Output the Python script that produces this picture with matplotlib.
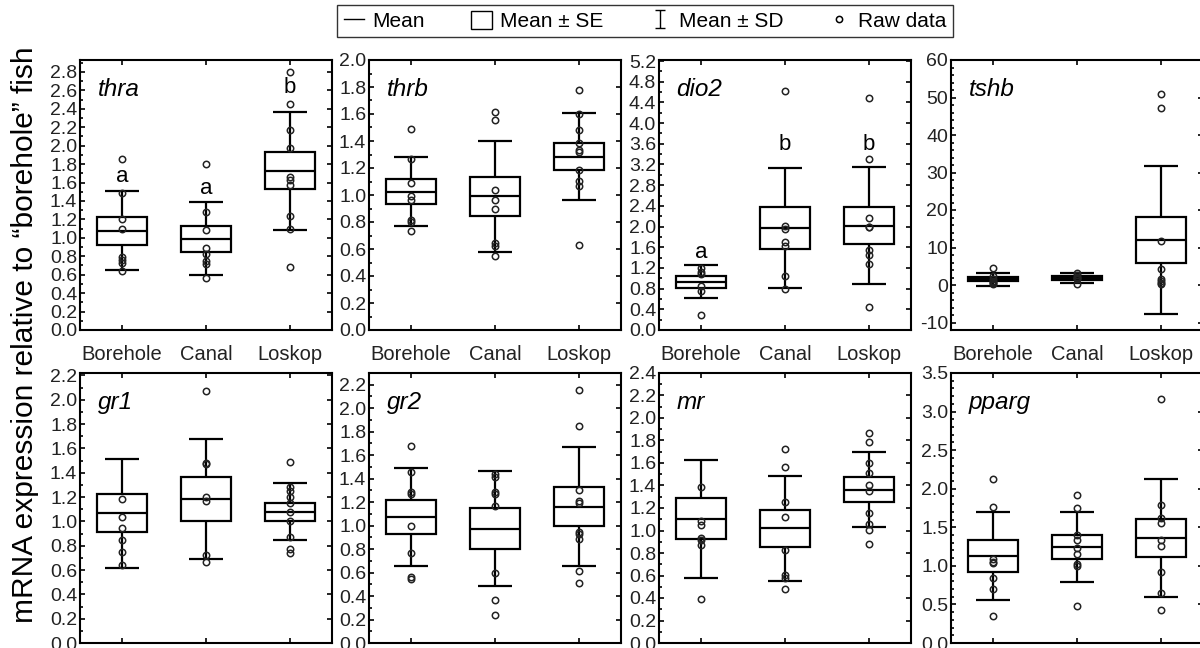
import numpy as np
import matplotlib
matplotlib.use("Agg")
from matplotlib import pyplot as plt
from matplotlib.lines import Line2D
from matplotlib.patches import Patch, Rectangle
from matplotlib.path import Path
from matplotlib.ticker import MultipleLocator, AutoMinorLocator, FormatStrFormatter

plt.rcParams['font.family'] = ['Liberation Sans', 'DejaVu Sans']

sites = ["Borehole", "Canal", "Loskop"]

# thyroid genes
thra_mean = [1.076, 0.99, 1.728]
thra_se = [0.149, 0.142, 0.203]
thra_sd = [0.428, 0.397, 0.64]
thra_raw = [[1.86, 1.49, 1.20, 1.10, 0.79, 0.76, 0.73, 0.64],
            [1.80, 1.28, 1.08, 0.89, 0.83, 0.75, 0.72, 0.56],
            [2.80, 2.45, 2.17, 1.97, 1.66, 1.63, 1.57, 1.24, 1.10, 0.68]]
thra_letters = ["a", "a", "b"]
thra_letter_y = [1.67, 1.54, 2.63]

thrb_mean = [1.025, 0.99, 1.285]
thrb_se = [0.09, 0.143, 0.103]
thrb_sd = [0.257, 0.41, 0.321]
thrb_raw = [[1.49, 1.27, 1.09, 0.995, 0.965, 0.816, 0.797, 0.734],
            [1.615, 1.558, 1.037, 0.963, 0.90, 0.643, 0.625, 0.548],
            [1.777, 1.598, 1.479, 1.387, 1.33, 1.32, 1.186, 1.107, 1.065, 0.63]]

dio2_mean = [0.93, 1.97, 2.02]
dio2_se = [0.12, 0.41, 0.357]
dio2_sd = [0.318, 1.164, 1.131]
dio2_raw = [[1.19, 1.12, 1.08, 0.86, 0.76, 0.29],
            [4.63, 2.02, 1.945, 1.71, 1.63, 1.05, 0.79],
            [4.49, 3.31, 2.165, 2.0, 1.99, 1.54, 1.45, 1.28, 0.45]]
dio2_letters = ["a", "b", "b"]
dio2_letter_y = [1.50, 3.58, 3.59]

tshb_mean = [1.5, 1.85, 12.0]
tshb_se = [0.55, 0.6, 6.23]
tshb_sd = [1.7, 1.25, 19.84]
tshb_raw = [[4.6, 2.5, 1.5, 1.2, 0.9, 0.5, 0.3],
            [3.1, 2.6, 2.2, 2.0, 1.8, 1.5, 0.3],
            [51.0, 47.3, 11.7, 4.2, 1.5, 1.1, 0.6, 0.4]]

# stress / metabolic genes
gr1_mean = [1.068, 1.183, 1.08]
gr1_se = [0.157, 0.178, 0.074]
gr1_sd = [0.448, 0.496, 0.235]
gr1_raw = [[1.18, 1.038, 0.943, 0.847, 0.751, 0.642],
           [2.071, 1.48, 1.472, 1.202, 1.167, 0.724, 0.664],
           [1.489, 1.284, 1.251, 1.20, 1.148, 1.079, 1.003, 0.874, 0.77, 0.743]]

gr2_mean = [1.075, 0.974, 1.162]
gr2_se = [0.145, 0.174, 0.164]
gr2_sd = [0.419, 0.49, 0.51]
gr2_raw = [[1.679, 1.46, 1.289, 1.269, 0.996, 0.768, 0.563, 0.549],
           [1.437, 1.417, 1.289, 1.269, 1.166, 0.597, 0.37, 0.242],
           [2.151, 1.849, 1.303, 1.212, 1.189, 0.947, 0.925, 0.89, 0.615, 0.515]]

mr_mean = [1.103, 1.02, 1.363]
mr_se = [0.182, 0.166, 0.11]
mr_sd = [0.523, 0.468, 0.335]
mr_raw = [[1.387, 1.081, 1.046, 0.933, 0.913, 0.868, 0.391],
          [1.727, 1.561, 1.253, 1.12, 0.824, 0.607, 0.578, 0.483],
          [1.867, 1.784, 1.60, 1.511, 1.401, 1.348, 1.156, 1.061, 1.007, 0.88]]

pparg_mean = [1.126, 1.245, 1.363]
pparg_se = [0.204, 0.158, 0.243]
pparg_sd = [0.572, 0.451, 0.769]
pparg_raw = [[2.122, 1.767, 1.091, 1.05, 1.031, 0.845, 0.702, 0.355],
             [1.914, 1.745, 1.399, 1.33, 1.226, 1.156, 1.026, 0.996, 0.476],
             [3.162, 1.789, 1.624, 1.55, 1.33, 1.256, 0.918, 0.65, 0.424]]

# gene, stats, letters, (ymin, ymax, major step, minor divisions, tick format)
panels = [
    ("thra", thra_mean, thra_se, thra_sd, thra_raw, thra_letters, thra_letter_y, (0, 2.93, 0.2, 2, "%.1f")),
    ("thrb", thrb_mean, thrb_se, thrb_sd, thrb_raw, None, None, (0, 2.0, 0.2, 2, "%.1f")),
    ("dio2", dio2_mean, dio2_se, dio2_sd, dio2_raw, dio2_letters, dio2_letter_y, (0, 5.22, 0.4, 2, "%.1f")),
    ("tshb", tshb_mean, tshb_se, tshb_sd, tshb_raw, None, None, (-12, 60, 10, 5, "%d")),
    ("gr1", gr1_mean, gr1_se, gr1_sd, gr1_raw, None, None, (0, 2.22, 0.2, 2, "%.1f")),
    ("gr2", gr2_mean, gr2_se, gr2_sd, gr2_raw, None, None, (0, 2.3, 0.2, 2, "%.1f")),
    ("mr", mr_mean, mr_se, mr_sd, mr_raw, None, None, (0, 2.4, 0.2, 2, "%.1f")),
    ("pparg", pparg_mean, pparg_se, pparg_sd, pparg_raw, None, None, (0, 3.5, 0.5, 5, "%.1f")),
]

fig = plt.figure(figsize=(12, 6.48), dpi=100)

lefts = [80, 369, 659, 951]
tops = [60, 373]
w_px, h_px = 252, 270
LW = 1.6

x = np.arange(1, len(sites) + 1)

for k, (gene, mean, se, sd, raw, letters, letter_y, yset) in enumerate(panels):
    row, col = divmod(k, 4)
    left = lefts[col] / 1200
    bottom = 1 - (tops[row] + h_px) / 648
    ax = fig.add_axes([left, bottom, w_px / 1200, h_px / 648])

    mean = np.array(mean)
    se = np.array(se)
    sd = np.array(sd)

    for i in range(len(sites)):
        xi = x[i]
        ax.add_patch(Rectangle((xi - 0.3, mean[i] - se[i]), 0.6, 2 * se[i],
                               fill=False, edgecolor="k", lw=LW, zorder=2))
        ax.hlines(mean[i], xi - 0.3, xi + 0.3, color="k", lw=LW, zorder=2)
        ax.vlines(xi, mean[i] + se[i], mean[i] + sd[i], color="k", lw=LW, zorder=2)
        ax.vlines(xi, mean[i] - sd[i], mean[i] - se[i], color="k", lw=LW, zorder=2)
        ax.hlines([mean[i] + sd[i], mean[i] - sd[i]], xi - 0.2, xi + 0.2,
                  color="k", lw=LW, zorder=2)
        pts = np.array(raw[i])
        ax.plot(np.full(len(pts), xi), pts, "o", ms=4.6, mfc="none",
                mec="#222222", mew=1.1, zorder=3)

    if letters is not None:
        for i, (lab, ly) in enumerate(zip(letters, letter_y)):
            ax.text(x[i], ly, lab, ha="center", va="center", fontsize=16)

    ymin, ymax, step, nminor, fmt = yset
    ax.set_xlim(0.5, 3.5)
    ax.set_ylim(ymin, ymax)
    ax.yaxis.set_major_locator(MultipleLocator(step))
    ax.yaxis.set_minor_locator(AutoMinorLocator(nminor))
    ax.yaxis.set_major_formatter(FormatStrFormatter(fmt))
    ax.set_xticks(x)
    ax.set_xticklabels(sites)

    ax.tick_params(which="both", direction="in", top=True, right=True,
                   width=1.2, colors="k", labelcolor="#222222")
    ax.tick_params(which="major", length=3.5, labelsize=14, pad=2)
    ax.tick_params(axis="x", which="major", pad=11, labelsize=14.5)
    ax.tick_params(which="minor", length=2, right=False, top=False)
    if row == 1:
        ax.tick_params(axis="x", labelbottom=False)
    for s in ax.spines.values():
        s.set_linewidth(1.5)

    ax.text(0.07, 0.865, gene, transform=ax.transAxes, fontsize=17.5,
            style="italic", ha="left", va="baseline")

fig.text(0.021, 0.483, "mRNA expression relative to \u201cborehole\u201d fish",
         rotation=90, ha="center", va="center", fontsize=21.5)

# legend along the top
ibeam = Path([(-0.5, 1), (0.5, 1), (0, 1), (0, -1), (-0.5, -1), (0.5, -1)],
             [Path.MOVETO, Path.LINETO, Path.MOVETO, Path.LINETO, Path.MOVETO, Path.LINETO])
handles = [
    Line2D([], [], color="k", lw=1.0),
    Patch(facecolor="white", edgecolor="k", lw=1.0),
    Line2D([], [], ls="none", marker=ibeam, ms=13, mfc="none", mec="k", mew=1.0),
    Line2D([], [], ls="none", marker="o", ms=4.5, mfc="none", mec="k", mew=1.1),
]
labels = ["Mean", "Mean \u00b1 SE", "Mean \u00b1 SD", "Raw data"]
leg = fig.legend(handles, labels, loc="upper center", bbox_to_anchor=(0.5375, 0.993),
                 ncol=4, fontsize=15, frameon=True, fancybox=False, edgecolor="k",
                 handlelength=1.0, handleheight=1.0, handletextpad=0.4,
                 columnspacing=2.2, borderpad=0.3, borderaxespad=0)
leg.get_frame().set_linewidth(1.0)

fig.savefig("out.png", dpi=100)
